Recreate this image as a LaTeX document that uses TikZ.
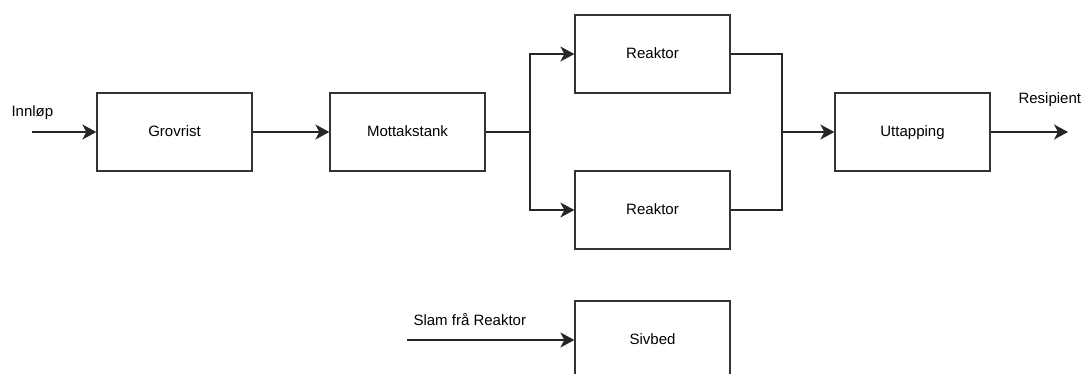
\documentclass[tikz,border=0pt]{standalone}
\usepackage{fontspec}
\setmainfont{Liberation Sans}
\usetikzlibrary{arrows.meta}
\begin{document}
\begin{tikzpicture}[
        x=1pt, y=-1pt,
        unit/.style={rectangle, draw=black!80, line width=1.3pt, minimum width=155pt, minimum height=78pt, text height=11pt, text depth=3pt, font=\fontsize{15}{18}\selectfont},
        flow/.style={draw=black!85, line width=1.3pt, -{Stealth[length=14pt, width=15pt, inset=4pt]}},
        pipe/.style={draw=black!85, line width=1.3pt},
        lbl/.style={font=\fontsize{15}{18}\selectfont, anchor=west}
    ]
    \useasboundingbox (0,0) rectangle (1083,373);
    % prosessenheter
    \node[unit] (grov) at (174.5,132) {Grovrist};
    \node[unit] (mott) at (407.5,132) {Mottakstank};
    \node[unit] (rea1) at (652.5,54) {Reaktor};
    \node[unit] (rea2) at (652.5,210) {Reaktor};
    \node[unit] (uttap) at (912.5,132) {Uttapping};
    \node[unit] (sivbed) at (652.5,340) {Sivbed};
    % inn og ut
    \coordinate (inn) at (32,132);
    \coordinate (ut) at (1068,132);
    \coordinate (slam) at (407,340);
    \coordinate (fordel) at (530,132);
    \coordinate (samle) at (782,132);
    \node[lbl] (innlbl) at (8,113) {Innløp};
    \node[lbl] (reslbl) at (1015,100) {Resipient};
    \node[lbl] (slamlbl) at (410,320) {Slam frå Reaktor};
    % straumar
    \draw[flow] (inn) -- (grov);
    \draw[flow] (grov) -- (mott);
    \draw[pipe] (mott) -- (fordel);
    \draw[flow] (fordel) |- (rea1);
    \draw[flow] (fordel) |- (rea2);
    \draw[pipe] (rea1) -| (samle);
    \draw[pipe] (rea2) -| (samle);
    \draw[flow] (samle) -- (uttap);
    \draw[flow] (uttap) -- (ut);
    \draw[flow] (slam) -- (sivbed);
\end{tikzpicture}
\end{document}
